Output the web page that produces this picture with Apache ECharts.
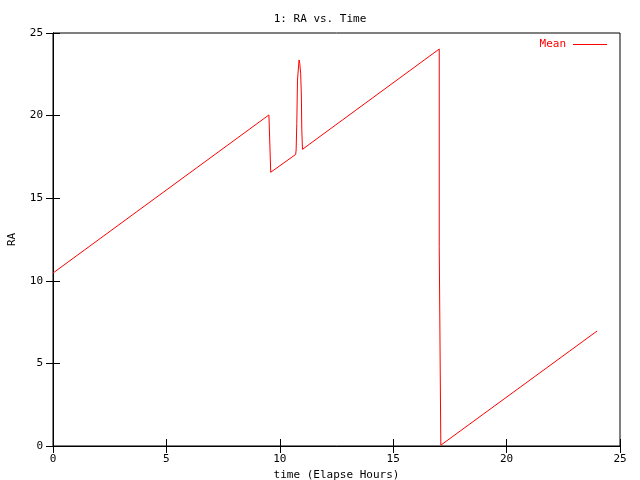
<!DOCTYPE html>
<html>
<head>
<meta charset="utf-8">
<script src="https://cdn.jsdelivr.net/npm/echarts@6/dist/echarts.min.js"></script>
<style>html,body{margin:0;padding:0;background:#fff;}#c{width:640px;height:480px;}</style>
</head>
<body>
<div id="c"></div>
<script>
var titleText = '1: RA vs. Time';
var seriesName = 'Mean';
var xName = 'time (Elapse Hours)';
var yName = 'RA';
var timeHours = [0.00, 9.52, 9.60, 10.70, 10.72, 10.75, 10.78, 10.85, 10.88, 10.92, 10.95, 10.97, 11.00, 17.03, 17.03, 17.10, 17.10, 23.99];
var raValues  = [10.47, 20.04, 16.57, 17.65, 17.92, 19.53, 22.15, 23.37, 23.16, 22.56, 21.25, 19.13, 17.96, 24.03, 12.06, 12.00, 0.05, 6.96];

var data = timeHours.map(function (t, i) { return [t, raValues[i]]; });
var font = 'DejaVu Sans Mono';
var chart = echarts.init(document.getElementById('c'));
var axisCommon = {
  min: 0, max: 25, interval: 5,
  axisLine: { show: true, lineStyle: { color: '#000', width: 1 } },
  axisTick: { show: true, inside: true, length: 7, lineStyle: { color: '#000' } },
  splitLine: { show: false }
};
chart.setOption({
  animation: false,
  backgroundColor: '#fff',
  title: {
    text: titleText, left: 'center', top: 9,
    textStyle: { fontFamily: font, fontSize: 11, fontWeight: 'normal', color: '#000' }
  },
  legend: {
    right: 28, top: 34, align: 'right', icon: 'rect', itemWidth: 34, itemHeight: 1,
    itemGap: 8,
    itemStyle: { color: '#ff0000' },
    textStyle: { fontFamily: font, fontSize: 11, color: '#ff0000', padding: [0, 2, 0, 0] },
    data: [seriesName]
  },
  grid: { left: 53, right: 20, top: 33, bottom: 34, containLabel: false, outerBoundsMode: 'none',
          show: true, borderColor: '#000', borderWidth: 1 },
  xAxis: [
    Object.assign({}, axisCommon, {
      type: 'value', position: 'bottom',
      name: xName, nameLocation: 'middle', nameGap: 22,
      nameTextStyle: { fontFamily: font, fontSize: 11, color: '#000' },
      axisLabel: { fontFamily: font, fontSize: 11, color: '#000', margin: 8 }
    }),
    Object.assign({}, axisCommon, { type: 'value', position: 'top', axisLabel: { show: false } })
  ],
  yAxis: [
    Object.assign({}, axisCommon, {
      type: 'value', position: 'left',
      name: yName, nameLocation: 'middle', nameGap: 35, nameRotate: 90,
      nameTextStyle: { fontFamily: font, fontSize: 11, color: '#000' },
      axisLabel: { fontFamily: font, fontSize: 11, color: '#000', margin: 10 }
    }),
    Object.assign({}, axisCommon, { type: 'value', position: 'right', axisLabel: { show: false } })
  ],
  series: [{
    name: seriesName, type: 'line', data: data, showSymbol: false, symbol: 'none',
    xAxisIndex: 0, yAxisIndex: 0, color: '#ff0000',
    lineStyle: { color: '#ff0000', width: 1 }, itemStyle: { color: '#ff0000' }
  }]
});
</script>
</body>
</html>
